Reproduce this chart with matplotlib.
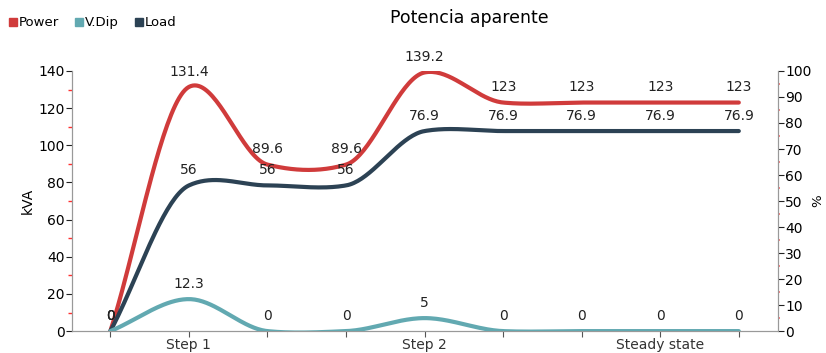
import numpy as np
import matplotlib.pyplot as plt
from matplotlib.ticker import MultipleLocator

# datos de la potencia aparente por etapa
categorias = ["", "Step 1", "", "", "Step 2", "", "", "Steady state", ""]
power = [0, 131.4, 89.6, 89.6, 139.2, 123, 123, 123, 123]   # kVA (eje izq.)
v_dip = [0, 12.3, 0, 0, 5, 0, 0, 0, 0]                      # % (eje der.)
load = [0, 56, 56, 56, 76.9, 76.9, 76.9, 76.9, 76.9]        # % (eje der.)

c_power = '#d03b3b'
c_vdip = '#62a9b1'
c_load = '#2c4254'


def suavizar(y, n=40, s=0.5):
    # spline de Hermite con tangentes tipo Catmull-Rom (tension s)
    y = np.asarray(y, dtype=float)
    k = len(y)
    m = np.zeros(k)
    m[1:-1] = s * (y[2:] - y[:-2]) / 2
    m[0] = y[1] - y[0]
    m[-1] = y[-1] - y[-2]
    xs, ys = [], []
    t = np.linspace(0, 1, n, endpoint=False)
    h00 = 2 * t**3 - 3 * t**2 + 1
    h10 = t**3 - 2 * t**2 + t
    h01 = -2 * t**3 + 3 * t**2
    h11 = t**3 - t**2
    for i in range(k - 1):
        xs.append(i + t)
        ys.append(h00 * y[i] + h10 * m[i] + h01 * y[i + 1] + h11 * m[i + 1])
    xs.append([k - 1])
    ys.append([y[-1]])
    return np.concatenate(xs), np.concatenate(ys)


fig = plt.figure(figsize=(8.26, 3.53), dpi=100)
ax = fig.add_axes([0.087, 0.062, 0.855, 0.737])
ax2 = ax.twinx()
x = np.arange(len(categorias))

for a in (ax, ax2):
    a.set_xlim(-0.49, 8.5)
    a.spines['top'].set_visible(False)
    for s in ('left', 'right', 'bottom'):
        a.spines[s].set_color('#999999')

ax.set_ylim(0, 140)
ax2.set_ylim(0, 100)

xs, ys = suavizar(power)
ax.plot(xs, ys, color=c_power, lw=3, solid_capstyle='round', zorder=3)
xs, ys = suavizar(load)
ax2.plot(xs, ys, color=c_load, lw=3, solid_capstyle='round', zorder=3)
xs, ys = suavizar(v_dip)
ax2.plot(xs, ys, color=c_vdip, lw=3, solid_capstyle='round', zorder=3)

etiq = dict(textcoords='offset points', xytext=(0, 6), ha='center', va='bottom',
            fontsize=10, color='#222222')
for xi, v in zip(x, power):
    ax.annotate(f"{v:g}", (xi, v), **etiq)
for xi, v in zip(x, load):
    ax2.annotate(f"{v:g}", (xi, v), **etiq)
for xi, v in zip(x, v_dip):
    ax2.annotate(f"{v:g}", (xi, v), **etiq)

ax.set_xticks(x)
ax.set_xticklabels(categorias, fontsize=10, color='#333333')
ax.tick_params(axis='x', length=4, color='#555555', pad=1)

ax.yaxis.set_major_locator(MultipleLocator(20))
ax.yaxis.set_minor_locator(MultipleLocator(10))
ax.tick_params(axis='y', which='major', length=4, color='#222222', labelsize=10, pad=1)
ax.tick_params(axis='y', which='minor', length=3, width=1, color='#ff3030')
ax.set_ylabel('kVA', fontsize=10, labelpad=3)

ax2.yaxis.set_major_locator(MultipleLocator(10))
ax2.yaxis.set_minor_locator(MultipleLocator(5))
ax2.tick_params(axis='y', which='major', length=4, color='#222222', labelsize=10, pad=1)
ax2.tick_params(axis='y', which='minor', length=1.5, width=1.2, color='#f07070')
ax2.set_ylabel('%', fontsize=9.5, labelpad=0)

fig.suptitle('Potencia aparente', fontsize=12.5, y=0.975, x=0.568)

handles = [plt.Line2D([], [], ls='', marker='s', ms=6, color=c)
           for c in (c_power, c_vdip, c_load)]
fig.legend(handles, ['Power', 'V.Dip', 'Load'], loc='upper left',
           bbox_to_anchor=(0.0, 0.98), ncol=3, frameon=False, fontsize=9.5,
           handlelength=0.6, handletextpad=0.15, columnspacing=1.2,
           borderaxespad=0.3)

fig.savefig('out.png', dpi=100)
